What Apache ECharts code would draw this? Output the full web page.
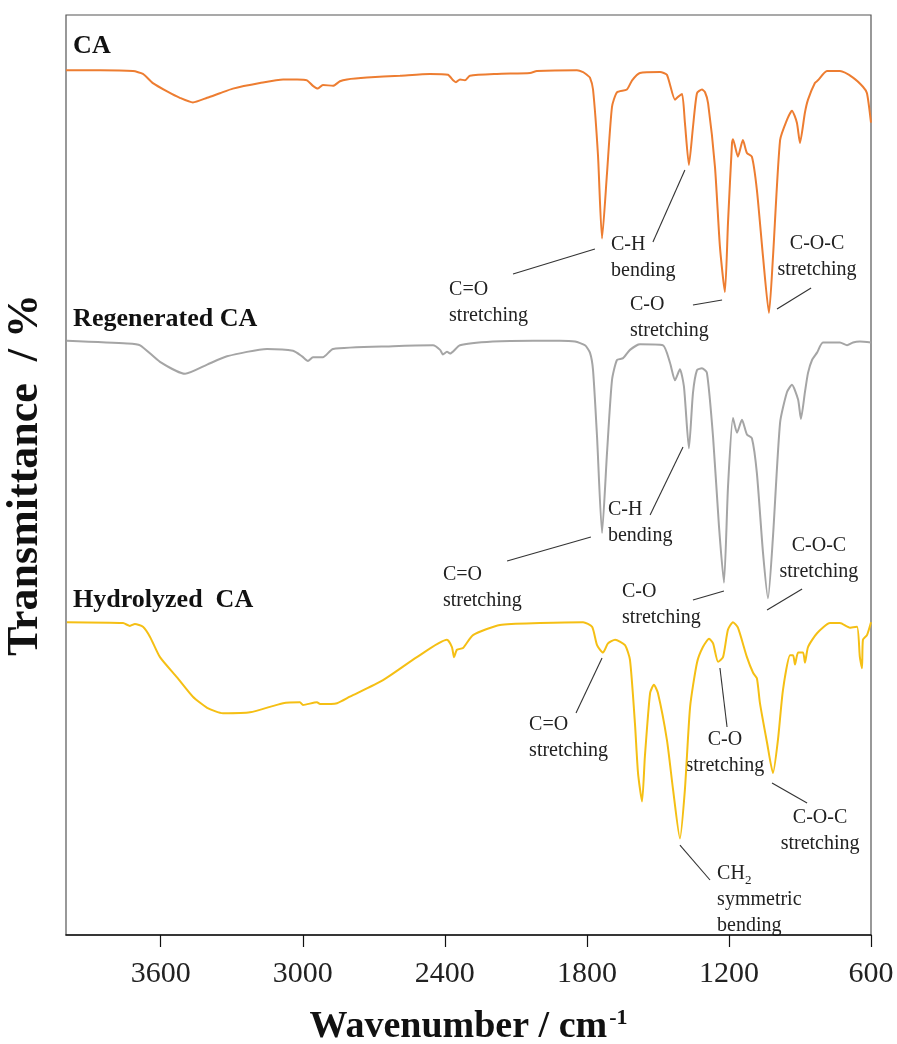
<!DOCTYPE html>
<html>
<head>
<meta charset="utf-8">
<script src="https://cdn.jsdelivr.net/npm/echarts@6/dist/echarts.min.js"></script>
<style>
html,body{margin:0;padding:0;background:#fff;}
#chart{width:897px;height:1044px;}
</style>
</head>
<body>
<div id="chart"></div>
<script>
// ---- Data (wavenumber in cm-1, offset transmittance in arbitrary units) ----
const wavenumberCA = [4000,3856,3717,3675,3633,3573,3519,3464,3404,3350,3295,3181,3083,3024,2982,2957,2936,2915,2872,2843,2813,2729,2589,2463,2387,2365,2353,2336,2315,2294,2180,2040,2011,1842,1816,1800,1787,1774,1753,1736,1715,1694,1673,1631,1609,1576,1491,1462,1428,1415,1398,1386,1369,1352,1335,1314,1301,1288,1259,1238,1217,1204,1187,1183,1162,1141,1124,1103,1082,1056,1031,1014,984,955,934,913,900,879,866,837,824,786,731,676,634,617,600];
const transmittanceCA = [94.0,94.0,93.9,93.6,92.6,91.7,91.0,90.5,91.0,91.5,92.0,92.6,93.0,93.0,92.9,92.3,92.0,92.4,92.3,92.8,93.0,93.2,93.4,93.6,93.5,92.9,92.7,93.0,92.9,93.4,93.6,93.7,93.9,94.0,93.8,93.5,93.2,91.9,84.7,75.7,82.8,90.0,91.6,91.9,92.9,93.7,93.8,93.5,90.8,91.1,91.4,88.3,83.7,87.8,91.5,91.9,91.6,90.4,83.5,74.8,69.9,77.4,86.1,86.5,84.6,86.4,85.0,84.6,81.0,73.7,67.6,73.7,86.4,88.6,89.6,88.3,86.1,89.4,90.8,92.6,92.9,93.9,93.9,93.2,92.2,91.5,88.3];

const wavenumberRegen = [3996,3742,3687,3603,3497,3404,3320,3151,3041,3003,2978,2957,2915,2872,2619,2450,2420,2408,2391,2378,2336,2197,2028,1914,1850,1808,1787,1774,1757,1736,1715,1694,1673,1647,1618,1576,1479,1449,1428,1407,1390,1369,1352,1335,1314,1293,1267,1242,1221,1204,1183,1166,1145,1124,1103,1082,1056,1035,1014,984,955,934,908,896,879,866,849,828,803,731,701,676,647,600];
const transmittanceRegen = [64.6,64.3,64.1,62.3,61.0,62.0,62.9,63.7,63.5,62.9,62.4,62.8,62.8,63.7,64.0,64.1,63.6,63.1,63.4,63.2,64.1,64.5,64.6,64.6,64.5,64.1,63.3,61.4,54.1,43.7,52.4,60.3,62.5,62.7,63.6,64.2,64.1,62.2,60.3,61.5,59.6,52.9,58.9,61.4,61.6,61.1,54.1,44.4,38.3,48.7,56.2,54.6,56.0,54.4,54.0,50.2,41.5,36.6,43.3,55.7,59.0,59.8,58.2,56.1,59.0,61.1,62.5,63.3,64.4,64.4,64.1,64.4,64.5,64.4];

const wavenumberHydro = [3996,3759,3730,3709,3675,3645,3603,3531,3464,3404,3337,3223,3083,3012,2999,2940,2927,2855,2801,2661,2518,2391,2370,2361,2349,2323,2281,2167,1998,1816,1778,1757,1732,1711,1681,1639,1618,1597,1584,1567,1555,1533,1517,1500,1462,1436,1407,1386,1364,1335,1310,1284,1267,1246,1225,1204,1183,1162,1124,1098,1082,1069,1039,1014,993,972,942,929,921,908,887,879,866,828,773,731,689,659,647,638,634,617,600];
const transmittanceHydro = [34.0,33.9,33.6,33.8,33.5,32.4,30.2,28.0,25.9,24.7,24.1,24.2,25.2,25.3,25.0,25.3,25.1,25.2,25.9,27.7,30.2,32.1,31.3,30.2,31.0,31.2,32.6,33.7,33.9,34.0,33.5,31.5,30.7,31.7,32.1,31.5,29.9,23.0,17.6,14.5,19.4,26.3,27.2,26.3,21.2,15.8,10.5,15.8,24.8,29.6,31.3,32.2,31.7,29.7,30.2,33.2,34.0,33.4,30.2,28.5,27.9,25.2,20.9,17.6,21.2,26.6,30.4,30.4,29.4,30.7,30.7,29.6,31.3,32.8,33.9,33.9,33.4,33.5,30.2,29.0,32.1,32.6,34.0];

const seriesNames = ['CA', 'Regenerated CA', 'Hydrolyzed  CA'];
const xTickValues = [3600, 3000, 2400, 1800, 1200, 600];

// ---- Styling ----
const SERIF = "'Liberation Serif','Times New Roman',serif";
const colors = ['#ED7D31', '#A5A5A5', '#F5BF14'];

function zip(xs, ys) { return xs.map((x, i) => [x, ys[i]]); }

const chart = echarts.init(document.getElementById('chart'), null, { renderer: 'canvas' });

const option = {
  animation: false,
  backgroundColor: '#fff',
  grid: {
    left: 66, right: 26, top: 15, bottom: 109,
    outerBoundsMode: 'none',
    containLabel: false,
    show: true, borderColor: '#555', borderWidth: 1.2, backgroundColor: 'transparent'
  },
  xAxis: {
    type: 'value',
    inverse: true,
    min: 600, max: 4000,
    splitLine: { show: false },
    axisLine: { show: true, lineStyle: { color: '#111', width: 1.5 } },
    axisTick: { show: true, length: 12, inside: false, lineStyle: { color: '#111', width: 1.2 }, customValues: xTickValues },
    axisLabel: { customValues: xTickValues, formatter: v => String(v), fontFamily: SERIF, fontSize: 30, color: '#222', margin: 24 },
    name: 'Wavenumber / cm{sup|-1}',
    nameLocation: 'middle',
    nameGap: 72,
    nameTextStyle: {
      fontFamily: SERIF, fontSize: 38, fontWeight: 'bold', color: '#111',
      rich: { sup: { fontFamily: SERIF, fontSize: 22, fontWeight: 'bold', color: '#111', verticalAlign: 'top', padding: [0, 0, 18, 2] } }
    }
  },
  yAxis: {
    type: 'value',
    min: 0, max: 100,
    splitLine: { show: false },
    axisLine: { show: false },
    axisTick: { show: false },
    axisLabel: { show: false },
    name: 'Transmittance  / %',
    nameLocation: 'middle',
    nameGap: 18,
    nameTextStyle: { fontFamily: SERIF, fontSize: 44, fontWeight: 'bold', color: '#111' }
  },
  series: [
    { name: seriesNames[0], type: 'line', data: zip(wavenumberCA, transmittanceCA), showSymbol: false, smooth: 0.2, lineStyle: { color: colors[0], width: 2 }, itemStyle: { color: colors[0] } },
    { name: seriesNames[1], type: 'line', data: zip(wavenumberRegen, transmittanceRegen), showSymbol: false, smooth: 0.2, lineStyle: { color: colors[1], width: 2 }, itemStyle: { color: colors[1] } },
    { name: seriesNames[2], type: 'line', data: zip(wavenumberHydro, transmittanceHydro), showSymbol: false, smooth: 0.2, lineStyle: { color: colors[2], width: 2 }, itemStyle: { color: colors[2] } }
  ]
};
chart.setOption(option);

// ---- Annotations anchored in data coordinates ----
const seriesLabelAnchors = [[3970, 96.6], [3970, 66.9], [3970, 36.4]];
const annotations = [
  // CA
  { text: 'C=O\nstretching', at: [2382, 70.1], align: 'left', line: [[2112, 71.85], [1766, 74.57]] },
  { text: 'C-H\nbending', at: [1698, 75.0], align: 'left', line: [[1521, 75.33], [1386, 83.15]] },
  { text: 'C-O\nstretching', at: [1618, 68.48], align: 'left', line: [[1352, 68.48], [1229, 69.02]] },
  { text: 'C-O-C\nstretching', at: [828, 75.11], align: 'center', line: [[997, 68.04], [853, 70.33]] },
  // Regenerated CA
  { text: 'C-H\nbending', at: [1711, 46.2], align: 'left', line: [[1533, 45.65], [1394, 53.04]] },
  { text: 'C=O\nstretching', at: [2408, 39.13], align: 'left', line: [[2137, 40.65], [1783, 43.26]] },
  { text: 'C-O\nstretching', at: [1652, 37.28], align: 'left', line: [[1352, 36.41], [1221, 37.39]] },
  { text: 'C-O-C\nstretching', at: [820, 42.28], align: 'center', line: [[1039, 35.33], [891, 37.61]] },
  // Hydrolyzed CA
  { text: 'C=O\nstretching', at: [2044, 22.83], align: 'left', line: [[1846, 24.13], [1736, 30.11]] },
  { text: 'C-O\nstretching', at: [1217, 21.2], align: 'center', line: [[1238, 29.02], [1208, 22.61]] },
  { text: 'C-O-C\nstretching', at: [815, 12.72], align: 'center', line: [[1018, 16.52], [870, 14.35]] },
  { text: 'CH{sub|2}\nsymmetric\nbending', at: [1250, 6.63], align: 'left', line: [[1407, 9.78], [1280, 5.98]] }
];

function px(p) { return chart.convertToPixel({ gridIndex: 0 }, p); }
const LH = 26;
const graphics = [];
seriesNames.forEach((name, i) => {
  const p = px(seriesLabelAnchors[i]);
  graphics.push({
    type: 'text', x: p[0], y: p[1], silent: true,
    style: { text: name, fontFamily: SERIF, fontSize: 26, fontWeight: 'bold', fill: '#111', align: 'left', verticalAlign: 'middle' }
  });
});
annotations.forEach(a => {
  const p = px(a.at);
  graphics.push({
    type: 'text', x: p[0], y: p[1] - LH / 2, silent: true,
    style: {
      text: a.text, fontFamily: SERIF, fontSize: 20, fill: '#222', align: a.align, verticalAlign: 'top', lineHeight: LH,
      rich: { sub: { fontFamily: SERIF, fontSize: 13, fill: '#222', verticalAlign: 'bottom', lineHeight: LH, padding: [12, 0, 0, 0] } }
    }
  });
  const a0 = px(a.line[0]), a1 = px(a.line[1]);
  graphics.push({
    type: 'line', silent: true,
    shape: { x1: a0[0], y1: a0[1], x2: a1[0], y2: a1[1] },
    style: { stroke: '#333', lineWidth: 1.1 }
  });
});
chart.setOption({ graphic: graphics });
</script>
</body>
</html>
